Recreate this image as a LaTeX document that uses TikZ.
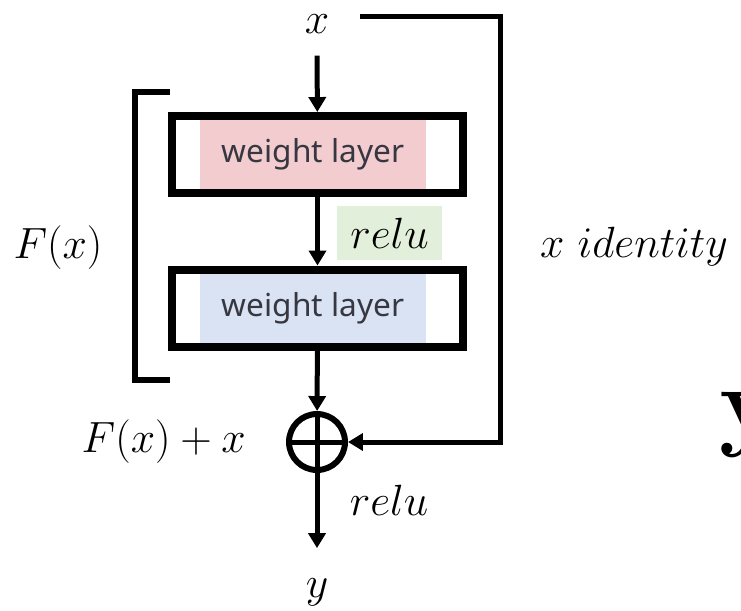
\documentclass[tikz,border=0pt]{standalone}
\usepackage{fontspec}
\newfontfamily\layerfont{Noto Sans}
\usepackage{tikz}
\usetikzlibrary{arrows.meta, positioning}
\definecolor{layerpink}{RGB}{242,204,207}
\definecolor{layerblue}{RGB}{218,227,243}
\definecolor{relugreen}{RGB}{226,239,218}
\definecolor{layertext}{RGB}{55,55,65}

\begin{document}
\begin{tikzpicture}[x=0.02cm, y=-0.02cm,
  layerfill/.style={fill=#1, minimum width=4.52cm, minimum height=1.42cm, inner sep=0pt, font=\layerfont\fontsize{18}{20}\selectfont, text=layertext},
  layerbox/.style={draw, line width=0.16cm, minimum width=5.82cm, minimum height=1.54cm, inner sep=0pt},
  mathlbl/.style={font=\fontsize{25}{30}\selectfont},
  arr/.style={-{Triangle[length=0.3cm, width=0.34cm]}, line width=0.1cm},
  sumnode/.style={circle, draw, line width=0.12cm, minimum size=1.12cm, inner sep=0pt},
  bracket/.style={line width=0.12cm},
]
  \useasboundingbox (0,0) rectangle (741,610);

  % Input and the two weight layers
  \node[mathlbl, inner sep=1pt] (xin) at (317,24) {$x$};
  \node[layerfill=layerpink] (w1) at (313,154) {weight layer};
  \node[layerbox] (box1) at (317.5,154.5) {};
  \node[mathlbl, fill=relugreen, minimum width=2.1cm, minimum height=1.08cm, inner sep=0pt] (relu1) at (389.5,233) {$relu$};
  \node[layerfill=layerblue] (w2) at (313,308) {weight layer};
  \node[layerbox] (box2) at (317.5,308) {};

  % Sum and output
  \node[sumnode] (sum) at (317,442) {};
  \draw[line width=0.1cm] (sum.north) -- (sum.south) (sum.west) -- (sum.east);
  \node[mathlbl] (yout) at (317,592) {$y$};

  % Labels
  \node[mathlbl] (fx) at (58,248) {$F(x)$};
  \node[mathlbl, anchor=east] (fsum) at (252,442) {$F(x)+x$};
  \node[mathlbl] (relu2) at (389,500) {$relu$};
  \node[mathlbl] (ident) at (634,247) {$x\ identity$};
  \node[font=\fontsize{58}{60}\selectfont\bfseries, anchor=base west, inner sep=0pt] (ybold) at (719,437) {y};

  % Main path arrows
  \draw[arr, shorten <=0.4cm] (xin) -- (box1);
  \draw[arr] (box1) -- (box2);
  \draw[arr] (box2) -- (sum);
  \draw[arr, shorten >=0.48cm] (sum) -- (yout);

  % Identity shortcut
  \coordinate (skipstart) at (360,16);
  \coordinate (skipcorner) at (500,16);
  \draw[arr] (skipstart) -- (skipcorner) |- (sum.east);

  % Bracket round F(x)
  \draw[bracket] (170,92) -- (135,92) -- (135,380) -- (170,380);
\end{tikzpicture}
\end{document}
